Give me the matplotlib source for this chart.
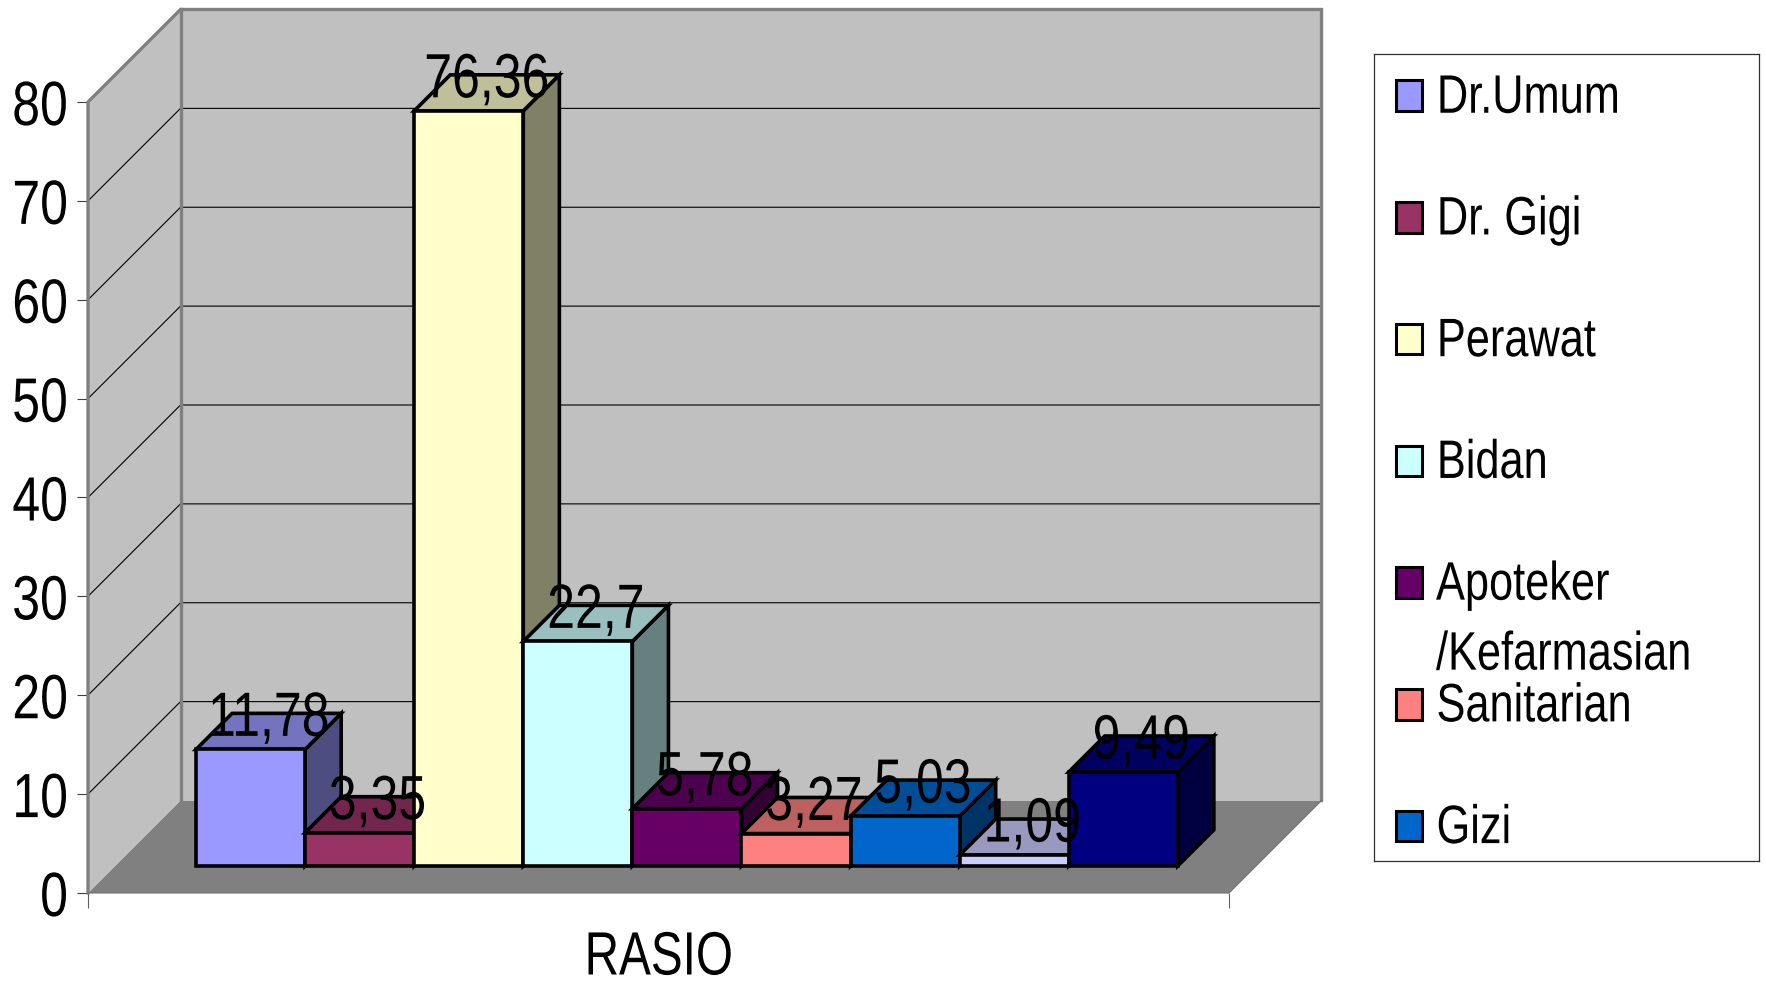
import matplotlib
matplotlib.use('Agg')
import matplotlib.pyplot as plt
from matplotlib.patches import Polygon, Rectangle
from matplotlib.colors import to_rgb
from matplotlib.patheffects import AbstractPathEffect
from matplotlib.transforms import Affine2D

# data
names = ['Dr.Umum', 'Dr. Gigi', 'Perawat', 'Bidan', 'Apoteker\n/Kefarmasian',
         'Sanitarian', 'Gizi']  # only 7 of the 9 make it into the legend
values = [11.78, 3.35, 76.36, 22.7, 5.78, 3.27, 5.03, 1.09, 9.49]
labels = ['11,78', '3,35', '76,36', '22,7', '5,78', '3,27', '5,03', '1,09', '9,49']
colors = ['#9999FF', '#993366', '#FFFFCC', '#CCFFFF', '#660066',
          '#FF8080', '#0066CC', '#CCCCFF', '#000080']
yticks = [0, 10, 20, 30, 40, 50, 60, 70, 80]

W, H = 1766, 986
plt.rcParams['font.family'] = ['Liberation Sans']


class Squeeze(AbstractPathEffect):
    # the original text is horizontally squashed, no narrow font available
    def __init__(self, sx=0.8, anchor='center'):
        super().__init__()
        self.sx = sx
        self.anchor = anchor

    def draw_path(self, renderer, gc, tpath, affine, rgbFace=None):
        ext = tpath.transformed(affine).get_extents()
        a = {'left': ext.x0, 'right': ext.x1, 'center': (ext.x0 + ext.x1) / 2}[self.anchor]
        squash = Affine2D().translate(-a, 0).scale(self.sx, 1).translate(a, 0)
        renderer.draw_path(gc, tpath, affine + squash, rgbFace)


fig = plt.figure(figsize=(W / 100, H / 100), dpi=100)

# axes = front plane of the fake 3d box
L, R, T, B = 88, 1229, 102, 893
ax = fig.add_axes([L / W, 1 - B / H, (R - L) / W, (B - T) / H])
ax.patch.set_visible(False)
ax.set_xlim(-0.742, 9.718)
ax.set_ylim(0, 80)

# depth of the box, in data units
DX = 92.5 / ((R - L) / 10.46)
DY = 92.5 / ((B - T) / 80)
D0, D1 = 0.293, 0.683  # bars sit between these depths


def pt(x, y, d=0.0):
    return (x + d * DX, y + d * DY)


def poly(points, fc, ec='none', lw=0, z=1):
    ax.add_patch(Polygon(points, closed=True, facecolor=fc, edgecolor=ec, linewidth=lw,
                         joinstyle='miter', zorder=z, clip_on=False))


x0, x1 = ax.get_xlim()
ytop = 80

# walls and floor
poly([pt(x0, 0, 0), pt(x0, 0, 1), pt(x1, 0, 1), pt(x1, 0, 0)], '#808080', z=1)
poly([pt(x0, 0, 0), pt(x0, ytop, 0), pt(x0, ytop, 1), pt(x0, 0, 1)], '#C0C0C0', z=1)
poly([pt(x0, 0, 1), pt(x0, ytop, 1), pt(x1, ytop, 1), pt(x1, 0, 1)], '#C0C0C0', z=1)

for v in yticks[1:-1]:
    ax.plot(*zip(pt(x0, v, 0), pt(x0, v, 1), pt(x1, v, 1)), color='black', lw=0.8,
            zorder=2, clip_on=False)

# wall border
ax.plot(*zip(pt(x0, 0, 0), pt(x0, ytop, 0), pt(x0, ytop, 1), pt(x1, ytop, 1), pt(x1, 0, 1)),
        color='#808080', lw=2.4, zorder=2, clip_on=False, solid_joinstyle='miter')
ax.plot(*zip(pt(x0, 0, 1), pt(x0, ytop, 1)), color='#808080', lw=2.4, zorder=2, clip_on=False)
ax.plot(*zip(pt(x0, 0, 0), pt(x1, 0, 0), pt(x1, 0, 1)), color='#707070', lw=0.8, zorder=2,
        clip_on=False)


def shade(c, f):
    return tuple(a * f for a in to_rgb(c))


# bars, left to right so a bar covers the side of its left neighbour
for i, (v, c) in enumerate(zip(values, colors)):
    z = 10 + i
    a, b = i, i + 1
    poly([pt(b, 0, D0), pt(b, 0, D1), pt(b, v, D1), pt(b, v, D0)], shade(c, 0.5), 'black', 2.6, z)
    poly([pt(a, v, D0), pt(b, v, D0), pt(b, v, D1), pt(a, v, D1)], shade(c, 0.75), 'black', 2.6, z)
    poly([pt(a, 0, D0), pt(b, 0, D0), pt(b, v, D0), pt(a, v, D0)], c, 'black', 2.6, z)

# labels sit on top of everything
for i, v in enumerate(values):
    lx, ly = pt(i + 0.5, v, (D0 + D1) / 2)
    ax.text(lx, ly - 0.45, labels[i], ha='center', va='baseline', fontsize=45,
            color='black', zorder=30, clip_on=False, path_effects=[Squeeze(0.8, 'center')])

# axes furniture
for s in ['top', 'right', 'left', 'bottom']:
    ax.spines[s].set_visible(False)
ax.set_yticks(yticks)
ax.tick_params(axis='y', length=8, width=0.8, labelsize=45, pad=6, color='#404040')
for t in ax.get_yticklabels():
    t.set_path_effects([Squeeze(0.8, 'right')])
ax.set_xticks([x0, x1])
ax.set_xticklabels(['', ''])
ax.tick_params(axis='x', length=11, width=0.8, color='#606060')
ax.set_xticks([(x0 + x1) / 2], minor=True)
ax.set_xticklabels(['RASIO'], minor=True, fontsize=44, path_effects=[Squeeze(0.78, 'center')])
ax.tick_params(axis='x', which='minor', length=0, pad=27)

# legend, spacing is uneven in the original so built by hand
LL, LR, LT, LB = 1374, 1759, 54, 861
lg = fig.add_axes([LL / W, 1 - LB / H, (LR - LL) / W, (LB - LT) / H])
lg.set_xlim(LL, LR)
lg.set_ylim((764 - 85) / 108, (48 - 85) / 108)
lg.set_xticks([])
lg.set_yticks([])
for s in lg.spines.values():
    s.set_linewidth(0.9)
    s.set_color('#303030')
for i, name in enumerate(names):
    lg.add_patch(Rectangle((1396, i - 0.125), 26, 0.25, facecolor=colors[i],
                           edgecolor='black', linewidth=2.2))
    for j, line in enumerate(name.split('\n')):
        lg.text(1436, i + 0.025 + j * 0.575, line, ha='left', va='center', fontsize=39,
                color='black', path_effects=[Squeeze(0.8, 'left')])

fig.savefig('out.png', dpi=100)
